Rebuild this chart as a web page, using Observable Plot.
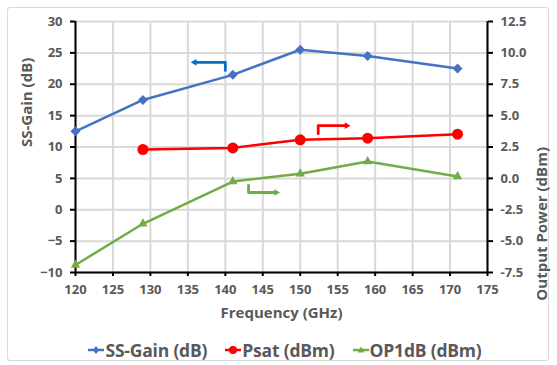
<!DOCTYPE html>
<html><head><meta charset="utf-8">
<script src="https://cdn.jsdelivr.net/npm/d3@7"></script>
<script src="https://cdn.jsdelivr.net/npm/@observablehq/plot@0.6"></script>
<style>
body{margin:0;background:#fff;font-family:"Open Sans",sans-serif;}
#frame{position:absolute;left:7px;top:7px;width:542px;height:354px;border:1px solid #d9d9d9;border-radius:3px;box-sizing:border-box;}
#chart{position:absolute;left:0;top:0;}
#legend{position:absolute;left:0;top:337px;width:570px;height:26px;display:flex;justify-content:center;align-items:center;gap:18px;font-size:17.5px;font-weight:700;color:#595959;letter-spacing:-0.2px;}
.item{display:flex;align-items:center;}
.item svg{margin-right:1px;}
</style></head>
<body>
<div id="frame"></div>
<div id="chart"></div>
<div id="legend"></div>
<script>
const freq = [120,129,141,150,159,171];
const gain = [12.5,17.5,21.5,25.5,24.5,22.5];
const psatFreq = [129,141,150,159,171];
const psat = [2.3,2.43,3.07,3.2,3.52];
const op1db = [-6.9,-3.62,-0.25,0.37,1.35,0.15];
const xTicks = [120,125,130,135,140,145,150,155,160,165,170,175];
const leftTicks = [-10,-5,0,5,10,15,20,25,30];
const rightTickLabels = ["-7.5","-5.0","-2.5","0.0","2.5","5.0","7.5","10.0","12.5"];
// annotation arrows (x in GHz, y in left-axis dB units)
const arrowBlue = [{f:140,v:22.2},{f:140,v:23.5},{f:135.9,v:23.5}];
const arrowRed = [{f:152.4,v:12.1},{f:152.4,v:13.4},{f:156.2,v:13.4}];
const arrowGreen = [{f:143.1,v:3.9},{f:143.1,v:2.75},{f:146.8,v:2.75}];

const toLeft = p => 2*p + 5; // right axis (dBm) -> left axis units
const gainData = freq.map((f,i)=>({f, v:gain[i]}));
const psatData = psatFreq.map((f,i)=>({f, v:toLeft(psat[i])}));
const opData = freq.map((f,i)=>({f, v:toLeft(op1db[i])}));

const blue="#4472c4", red="#ff0000", green="#70ad47", arrowBlueC="#0070c0";
const txt="#595959";

function arrowMarks(data, color, rot){
  const tip = data[data.length-1];
  return [
    Plot.line(data,{x:"f",y:"v",stroke:color,strokeWidth:2.8,strokeLinejoin:"round"}),
    Plot.dot([tip],{x:"f",y:"v",symbol:"triangle2",r:3.2,fill:color,rotate:rot})
  ];
}

const plot = Plot.plot({
  width:557, height:330,
  marginLeft:75, marginRight:70, marginTop:21, marginBottom:58,
  x:{domain:[120,175]},
  y:{domain:[-10,30]},
  style:{fontFamily:"Open Sans", fontSize:"13px", fontWeight:"bold", color:txt, background:"transparent"},
  marks:[
    Plot.gridX(xTicks,{stroke:"#d9d9d9",strokeOpacity:1,strokeWidth:2}),
    Plot.gridY(leftTicks,{stroke:"#d9d9d9",strokeOpacity:1,strokeWidth:2}),
    Plot.axisX(xTicks,{tickSize:4,stroke:"black",strokeWidth:2,fill:txt,tickPadding:8,label:null}),
    Plot.axisY(leftTicks,{anchor:"left",tickSize:5,stroke:"black",strokeWidth:2,fill:txt,tickPadding:8,label:null}),
    Plot.axisY(leftTicks,{anchor:"right",tickSize:5,stroke:"black",strokeWidth:2,fill:txt,tickPadding:8,label:null,
      tickFormat:d=>rightTickLabels[leftTicks.indexOf(d)]}),
    Plot.ruleX([120,175],{stroke:"black",strokeWidth:2}),
    Plot.ruleY([-10],{stroke:"black",strokeWidth:2}),
    Plot.text(["Frequency (GHz)"],{frameAnchor:"bottom",dy:41,lineAnchor:"middle",fontSize:15,fill:txt}),
    Plot.text(["SS-Gain (dB)"],{frameAnchor:"left",dx:-48,rotate:-90,lineAnchor:"middle",fontSize:15,fill:txt}),
    Plot.text(["Output Power (dBm)"],{frameAnchor:"right",dx:55,rotate:-90,lineAnchor:"middle",fontSize:15,fill:txt}),
    Plot.line(gainData,{x:"f",y:"v",stroke:blue,strokeWidth:2.5}),
    Plot.dot(gainData,{x:"f",y:"v",symbol:"diamond2",r:4.5,fill:blue}),
    Plot.line(psatData,{x:"f",y:"v",stroke:red,strokeWidth:2.5}),
    Plot.dot(psatData,{x:"f",y:"v",symbol:"circle",r:5.5,fill:red}),
    Plot.line(opData,{x:"f",y:"v",stroke:green,strokeWidth:2.5}),
    Plot.dot(opData,{x:"f",y:"v",symbol:"triangle2",r:4.5,fill:green}),
    ...arrowMarks(arrowBlue,arrowBlueC,-90),
    ...arrowMarks(arrowRed,red,90),
    ...arrowMarks(arrowGreen,green,90)
  ]
});
document.getElementById("chart").appendChild(plot);

const legendItems = [
  {name:"SS-Gain (dB)", color:blue, shape:"diamond"},
  {name:"Psat (dBm)", color:red, shape:"circle"},
  {name:"OP1dB (dBm)", color:green, shape:"triangle"}
];
const leg = document.getElementById("legend");
for (const it of legendItems){
  const d = document.createElement("div"); d.className="item";
  let m;
  if(it.shape==="diamond") m=`<path d="M8 4 L11 8 L8 12 L5 8 Z" fill="${it.color}"/>`;
  else if(it.shape==="circle") m=`<circle cx="8" cy="8" r="4" fill="${it.color}"/>`;
  else m=`<path d="M8 4.5 L11.5 10.5 L4.5 10.5 Z" fill="${it.color}"/>`;
  d.innerHTML = `<svg width="16" height="16"><line x1="0" x2="16" y1="8" y2="8" stroke="${it.color}" stroke-width="2.5"/>${m}</svg><span>${it.name}</span>`;
  leg.appendChild(d);
}
</script>
</body></html>
